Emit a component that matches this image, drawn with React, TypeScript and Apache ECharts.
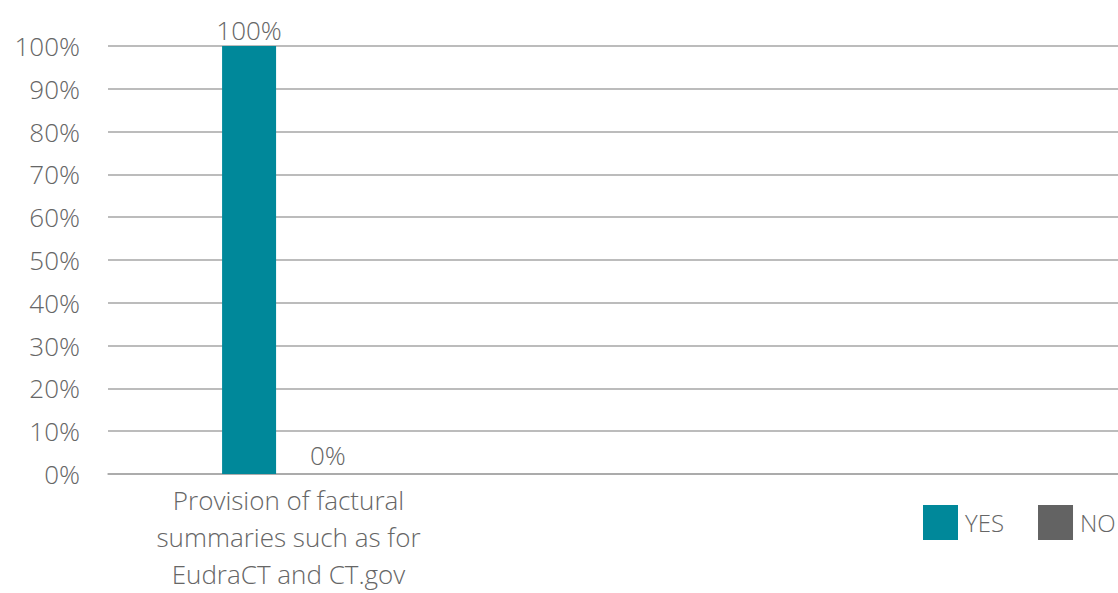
import React, { useEffect, useRef } from "react";
import * as echarts from "echarts";

const categories = [
  "Provision of factural\nsummaries such as for\nEudraCT and CT.gov",
  "",
  "",
];
const yesValues = [100];
const noValues = [0];
const seriesNames = ["YES", "NO"];

export default function App() {
  const ref = useRef<HTMLDivElement>(null);
  useEffect(() => {
    if (!ref.current) return;
    const chart = echarts.init(ref.current, null, { renderer: "svg" });
    const font = "'Open Sans', 'Noto Sans', sans-serif";
    const txt = "#666666";
    const fw = 300;
    chart.setOption({
      animation: false,
      textStyle: { fontFamily: font },
      grid: { left: 108, right: -73, top: 46, bottom: 119, outerBoundsMode: "none", containLabel: false },
      legend: {
        left: 918,
        top: 500,
        width: 400,
        orient: "horizontal",
        itemWidth: 35,
        itemHeight: 35,
        itemGap: 34,
        icon: "rect",
        data: seriesNames,
        textStyle: { fontFamily: font, fontSize: 24, fontWeight: fw, color: txt, padding: [0, 0, 0, 2] },
      },
      xAxis: {
        type: "category",
        data: categories,
        axisLine: { show: true, lineStyle: { color: "#a6a6a6", width: 1.5 } },
        axisTick: { show: false },
        axisLabel: {
          interval: 0,
          fontFamily: font,
          fontSize: 26,
          fontWeight: fw,
          color: txt,
          lineHeight: 37,
          margin: 7,
        },
      },
      yAxis: {
        type: "value",
        min: 0,
        max: 100,
        interval: 10,
        axisLine: { show: false },
        axisTick: { show: false },
        axisLabel: {
          formatter: "{value}%",
          fontFamily: font,
          fontSize: 26,
          fontWeight: fw,
          color: txt,
          margin: 28,
        },
        splitLine: { lineStyle: { color: "#a6a6a6", width: 1.5 } },
      },
      series: [
        {
          name: seriesNames[0],
          type: "bar",
          data: yesValues,
          barWidth: 54,
          barGap: "46%",
          itemStyle: { color: "#00889A" },
          label: {
            show: true,
            position: "top",
            formatter: "{c}%",
            fontFamily: font,
            fontSize: 26,
            fontWeight: fw,
            color: txt,
            distance: 3,
          },
        },
        {
          name: seriesNames[1],
          type: "bar",
          data: noValues,
          barWidth: 54,
          itemStyle: { color: "#636363" },
          label: {
            show: true,
            position: "top",
            formatter: "{c}%",
            fontFamily: font,
            fontSize: 26,
            fontWeight: fw,
            color: txt,
            distance: 6,
          },
        },
      ],
    });
    return () => chart.dispose();
  }, []);
  return (
    <div
      ref={ref}
      style={{ position: "absolute", left: 0, top: 0, width: 1118, height: 593, overflow: "hidden" }}
    />
  );
}
